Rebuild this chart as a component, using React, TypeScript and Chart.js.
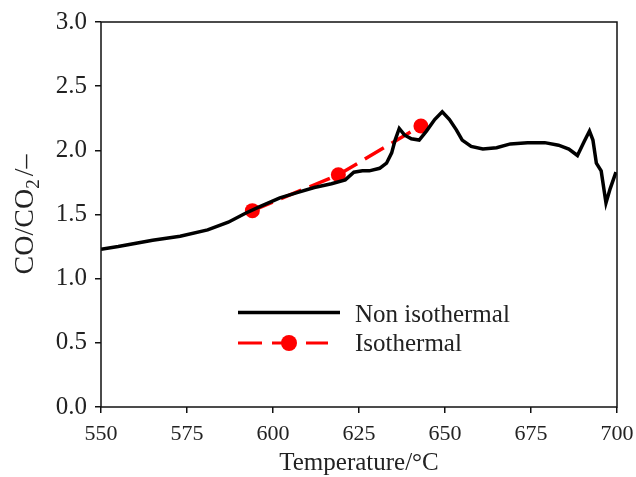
import React, { useEffect, useRef } from "react";
import { Chart, registerables } from "chart.js";

Chart.register(...registerables);

// Non-isothermal run: temperature (°C) and CO/CO2 ratio
const nonIsoTemp = [
  550, 555, 559, 565, 573, 581, 587, 592, 596, 602, 607, 612, 617, 621, 623.5,
  626, 628, 631, 633, 634.5, 635.5, 636.7, 638.2, 640.2, 642.5, 644.6, 647,
  649.2, 651.3, 653.3, 655, 657.6, 661, 665, 669, 674, 679, 683, 686, 688.5,
  690.5, 692, 693, 694, 695.4, 696.8, 698, 699.7,
];
const nonIsoRatio = [
  1.23, 1.25, 1.27, 1.3, 1.33, 1.38, 1.44, 1.51, 1.56, 1.63, 1.67, 1.71, 1.74,
  1.77, 1.83, 1.84, 1.84, 1.86, 1.9, 1.98, 2.08, 2.17, 2.12, 2.09, 2.08, 2.15,
  2.24, 2.3, 2.24, 2.16, 2.08, 2.03, 2.01, 2.02, 2.05, 2.06, 2.06, 2.04, 2.01,
  1.96, 2.07, 2.15, 2.08, 1.9, 1.84, 1.59, 1.7, 1.83,
];

// Isothermal runs
const isoTemp = [594, 619, 643];
const isoRatio = [1.53, 1.81, 2.19];

// Axis ranges and labels
const xMin = 550;
const xMax = 700;
const xStep = 25;
const yMin = 0;
const yMax = 3;
const yStep = 0.5;
const xTitle = "Temperature/°C";
const legendLabels = ["Non isothermal", "Isothermal"];

const SERIF = "'Liberation Serif', 'Times New Roman', serif";
const RED = "#ff0000";

const framePlugin = {
  id: "frameAndTitles",
  afterDraw(chart: any) {
    const { ctx, chartArea } = chart;
    const { left, right, top, bottom } = chartArea;
    ctx.save();
    // box around the plot area
    ctx.strokeStyle = "#111";
    ctx.lineWidth = 1.5;
    ctx.strokeRect(left, top, right - left, bottom - top);

    // x axis title
    ctx.fillStyle = "#222";
    ctx.font = `25px ${SERIF}`;
    ctx.textAlign = "center";
    ctx.textBaseline = "alphabetic";
    ctx.fillText(xTitle, (left + right) / 2, 470);

    // y axis title with subscript: CO/CO₂ /–
    const big = `28px ${SERIF}`;
    const small = `19px ${SERIF}`;
    ctx.font = big;
    const partA = "CO/CO";
    const partC = "/–";
    const wA = ctx.measureText(partA).width;
    const wC = ctx.measureText(partC).width;
    ctx.font = small;
    const wB = ctx.measureText("2").width;
    const gap = 3;
    const total = wA + wB + gap + wC;
    ctx.translate(33, (top + bottom) / 2);
    ctx.rotate(-Math.PI / 2);
    ctx.textAlign = "left";
    let x0 = -total / 2;
    ctx.font = big;
    ctx.fillText(partA, x0, 0);
    x0 += wA;
    ctx.font = small;
    ctx.fillText("2", x0, 6);
    x0 += wB + gap;
    ctx.font = big;
    ctx.fillText(partC, x0, 0);
    ctx.restore();

    // legend
    ctx.save();
    const lx0 = 238;
    const lx1 = 340;
    const ly1 = 312.5;
    const ly2 = 343;
    ctx.lineWidth = 3.5;
    ctx.strokeStyle = "#000";
    ctx.beginPath();
    ctx.moveTo(lx0, ly1);
    ctx.lineTo(lx1, ly1);
    ctx.stroke();

    ctx.strokeStyle = RED;
    ctx.lineWidth = 3;
    ctx.setLineDash([24, 10]);
    ctx.beginPath();
    ctx.moveTo(lx0, ly2);
    ctx.lineTo(lx1 - 12, ly2);
    ctx.stroke();
    ctx.setLineDash([]);
    ctx.fillStyle = RED;
    ctx.beginPath();
    ctx.arc(289, ly2, 8, 0, Math.PI * 2);
    ctx.fill();

    ctx.fillStyle = "#222";
    ctx.font = `25px ${SERIF}`;
    ctx.textAlign = "left";
    ctx.textBaseline = "alphabetic";
    ctx.fillText(legendLabels[0], 355, 322);
    ctx.fillText(legendLabels[1], 355, 351);
    ctx.restore();
  },
};

export default function App() {
  const canvasRef = useRef<HTMLCanvasElement | null>(null);

  useEffect(() => {
    const canvas = canvasRef.current;
    if (!canvas) return;

    const nonIsoPoints = nonIsoTemp.map((t, i) => ({ x: t, y: nonIsoRatio[i] }));
    const isoPoints = isoTemp.map((t, i) => ({ x: t, y: isoRatio[i] }));

    const chart = new Chart(canvas, {
      type: "line",
      data: {
        datasets: [
          {
            label: legendLabels[0],
            data: nonIsoPoints,
            borderColor: "#000",
            borderWidth: 3.5,
            pointRadius: 0,
            tension: 0,
            fill: false,
          },
          {
            label: legendLabels[1],
            data: isoPoints,
            borderColor: RED,
            backgroundColor: RED,
            borderWidth: 3.5,
            borderDash: [22, 9],
            pointRadius: 7.5,
            pointBackgroundColor: RED,
            pointBorderColor: RED,
            pointBorderWidth: 0,
            tension: 0,
            fill: false,
          },
        ],
      },
      options: {
        responsive: false,
        animation: false,
        devicePixelRatio: 1,
        layout: { padding: { top: 22, right: 19, left: 0, bottom: 0 } },
        plugins: {
          legend: { display: false },
          tooltip: { enabled: false },
        },
        scales: {
          x: {
            type: "linear",
            min: xMin,
            max: xMax,
            afterFit(scale: any) {
              scale.height = 70;
              scale.paddingLeft = 0;
              scale.paddingRight = 0;
            },
            ticks: {
              stepSize: xStep,
              color: "#222",
              font: { family: SERIF, size: 22 },
              padding: 8,
              maxRotation: 0,
              callback: (v: any) => String(v),
            },
            grid: {
              drawOnChartArea: false,
              drawTicks: true,
              tickLength: 6,
              color: "#111",
              lineWidth: 1.5,
            },
            border: { display: false },
          },
          y: {
            type: "linear",
            min: yMin,
            max: yMax,
            afterFit(scale: any) {
              scale.width = 101;
              scale.paddingTop = 0;
              scale.paddingBottom = 0;
            },
            ticks: {
              stepSize: yStep,
              color: "#222",
              font: { family: SERIF, size: 25 },
              padding: 8,
              callback: (v: any) => Number(v).toFixed(1),
            },
            grid: {
              drawOnChartArea: false,
              drawTicks: true,
              tickLength: 6,
              color: "#111",
              lineWidth: 1.5,
            },
            border: { display: false },
          },
        },
      },
      plugins: [framePlugin],
    });

    return () => chart.destroy();
  }, []);

  return (
    <div
      style={{
        position: "fixed",
        left: 0,
        top: 0,
        width: 636,
        height: 477,
        background: "#fff",
      }}
    >
      <canvas ref={canvasRef} width={636} height={477} />
    </div>
  );
}
